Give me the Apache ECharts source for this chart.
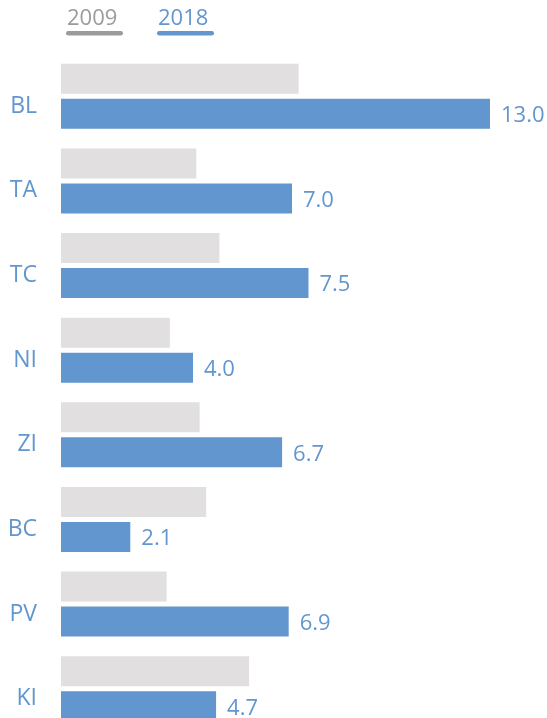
<!DOCTYPE html>
<html>
<head>
<meta charset="utf-8">
<script src="https://cdn.jsdelivr.net/npm/echarts@6/dist/echarts.min.js"></script>
<style>
  html, body { margin: 0; padding: 0; background: #fff; overflow: hidden; }
  /* the last row runs past the bottom edge of the window */
  #chart { width: 547px; height: 731px; }
</style>
</head>
<body>
<div id="chart"></div>
<script>
// Categories, top to bottom
var categories = ['BL', 'TA', 'TC', 'NI', 'ZI', 'BC', 'PV', 'KI'];
// Series names
var seriesNames = ['2009', '2018'];
// 2009 values (unlabelled grey bars)
var values2009 = [7.2, 4.1, 4.8, 3.3, 4.2, 4.4, 3.2, 5.7];
// 2018 values (labelled blue bars)
var values2018 = [13.0, 7.0, 7.5, 4.0, 6.7, 2.1, 6.9, 4.7];

var BLUE = '#6296cf';
var GREY_BAR = '#e1dfe0';
var GREY_TEXT = '#9b9b9b';
var FONT = 'Open Sans';

var chart = echarts.init(document.getElementById('chart'), null, { renderer: 'canvas' });

// Legend drawn as text with an underline bar beneath each series name
var legendItems = [
  { name: seriesNames[0], color: GREY_TEXT, x: 66 },
  { name: seriesNames[1], color: BLUE, x: 157 }
];
var graphics = [];
legendItems.forEach(function (it) {
  graphics.push({
    type: 'text',
    left: it.x + 1,
    top: 8,
    style: { text: it.name, fill: it.color, font: '22px "' + FONT + '"' }
  });
  graphics.push({
    type: 'rect',
    left: it.x,
    top: 31,
    shape: { width: 57, height: 4.5, r: 2.25 },
    style: { fill: it.color }
  });
});

chart.setOption({
  animation: false,
  graphic: graphics,
  grid: { left: 61, right: 24, top: 54, height: 677, containLabel: false },
  xAxis: {
    type: 'value',
    min: 0,
    max: 14,
    show: false
  },
  yAxis: {
    type: 'category',
    data: categories,
    inverse: true,
    axisLine: { show: false },
    axisTick: { show: false },
    axisLabel: {
      color: BLUE,
      fontFamily: FONT,
      fontSize: 23,
      margin: 24,
      verticalAlign: 'top',
      lineHeight: 20
    }
  },
  series: [
    {
      name: seriesNames[0],
      type: 'bar',
      data: values2009,
      barWidth: 30,
      barGap: '17%',
      itemStyle: { color: GREY_BAR },
      silent: true
    },
    {
      name: seriesNames[1],
      type: 'bar',
      data: values2018,
      barWidth: 30,
      itemStyle: { color: BLUE },
      label: {
        show: true,
        position: 'right',
        distance: 11,
        color: BLUE,
        fontFamily: FONT,
        fontSize: 22,
        offset: [0, 2],
        formatter: function (p) { return p.value.toFixed(1); }
      },
      silent: true
    }
  ]
});
</script>
</body>
</html>
